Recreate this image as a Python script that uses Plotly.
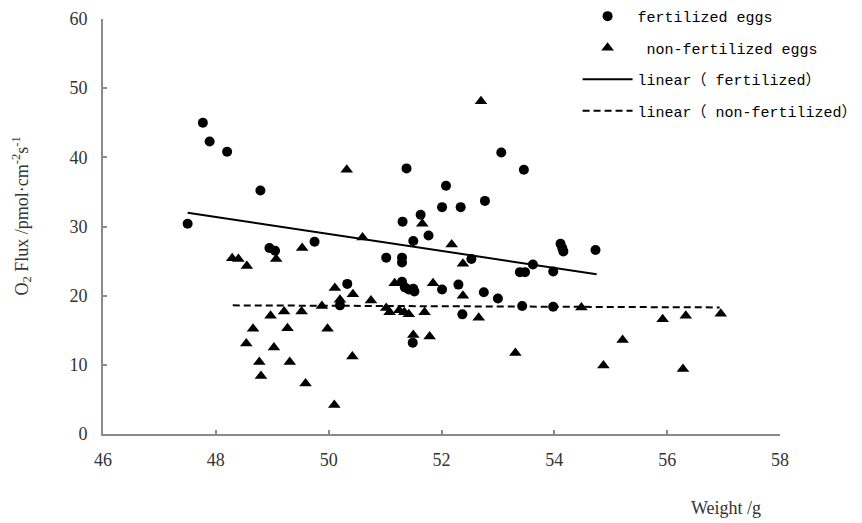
import plotly.graph_objects as go

# ---- data ----
fert_w = [47.5, 47.77, 47.89, 48.2, 48.79, 48.95, 49.05, 49.75, 50.33, 50.2,
          51.38, 51.31, 51.02, 51.3, 51.3, 51.63, 51.77, 51.5, 52.08, 52.01,
          52.34, 52.77, 53.06, 53.46, 54.11, 54.14, 54.16, 54.73, 52.53, 53.62,
          53.39, 53.48, 53.98, 51.3, 51.35, 51.42, 51.5, 51.52, 52.01, 52.3,
          52.75, 53.0, 53.43, 53.98, 52.37, 51.49]
fert_o2 = [30.4, 45.0, 42.3, 40.8, 35.2, 26.9, 26.5, 27.8, 21.7, 18.6,
           38.4, 30.7, 25.5, 25.5, 24.8, 31.7, 28.7, 27.9, 35.9, 32.8,
           32.8, 33.7, 40.7, 38.2, 27.5, 26.9, 26.4, 26.6, 25.3, 24.5,
           23.4, 23.4, 23.5, 22.0, 21.2, 20.9, 21.0, 20.6, 20.9, 21.6,
           20.5, 19.6, 18.5, 18.4, 17.3, 13.2]

nonf_w = [48.29, 48.4, 48.55, 49.07, 49.53, 50.32, 50.6, 50.11, 50.43, 50.2,
          49.88, 50.75, 51.02, 51.08, 51.25, 51.34, 51.17, 48.97, 49.21, 49.52,
          48.66, 49.27, 49.98, 48.54, 49.03, 48.77, 49.31, 48.8, 50.42, 49.59,
          50.1, 52.7, 51.66, 52.18, 52.38, 51.85, 52.38, 51.42, 51.7, 52.66,
          51.79, 51.5, 53.31, 54.48, 54.87, 55.21, 55.92, 56.33, 56.28, 56.95]
nonf_o2 = [25.4, 25.3, 24.3, 25.3, 26.9, 38.2, 28.4, 21.1, 20.2, 19.4,
           18.5, 19.3, 18.2, 17.6, 17.9, 17.6, 21.8, 17.1, 17.7, 17.7,
           15.2, 15.3, 15.2, 13.1, 12.5, 10.4, 10.4, 8.4, 11.2, 7.3,
           4.2, 48.1, 30.4, 27.4, 24.6, 21.8, 20.0, 17.3, 17.6, 16.8,
           14.1, 14.3, 11.7, 18.3, 9.9, 13.6, 16.6, 17.1, 9.4, 17.4]

lin_fert_w = [47.5, 54.75]
lin_fert_o2 = [32.0, 23.1]
lin_nonf_w = [48.3, 56.93]
lin_nonf_o2 = [18.6, 18.3]

x_ticks = [46, 48, 50, 52, 54, 56, 58]
y_ticks = [0, 10, 20, 30, 40, 50, 60]

serif = "Liberation Serif, Times New Roman, serif"
mono = "Liberation Mono, Noto Sans CJK SC, monospace"

fig = go.Figure()
fig.add_trace(go.Scatter(x=fert_w, y=fert_o2, mode="markers", name="fertilized eggs",
                         legendgroup="a",
                         marker=dict(symbol="circle", size=10, color="black")))
fig.add_trace(go.Scatter(x=nonf_w, y=nonf_o2, mode="markers", name=" non-fertilized eggs",
                         legendgroup="b",
                         marker=dict(symbol="triangle-up", size=11, color="black")))
fig.add_trace(go.Scatter(x=lin_fert_w, y=lin_fert_o2, mode="lines", name="linear（ fertilized）",
                         legendgroup="c",
                         line=dict(color="black", width=2)))
fig.add_trace(go.Scatter(x=lin_nonf_w, y=lin_nonf_o2, mode="lines", name="linear（ non-fertilized）",
                         legendgroup="d",
                         line=dict(color="black", width=2, dash="7px,4px")))

axis_common = dict(showline=True, linecolor="#8a8a8a", linewidth=2, ticks="inside",
                   ticklen=4, tickwidth=1.5, tickcolor="#8a8a8a", showgrid=False,
                   zeroline=False, tickfont=dict(family=serif, size=18, color="#333"))

fig.update_xaxes(range=[46, 58], tickvals=x_ticks, ticktext=[str(v) for v in x_ticks],
                 ticklabelstandoff=8, **axis_common)
fig.update_yaxes(range=[0, 60], tickvals=y_ticks, ticktext=[str(v) for v in y_ticks],
                 ticklabelstandoff=10, **axis_common)

fig.add_annotation(text="O<sub>2</sub> Flux /pmol·cm<sup>-2</sup>s<sup>-1</sup>",
                   xref="paper", yref="paper", x=-0.12, y=0.526, textangle=-90,
                   showarrow=False, xanchor="center", yanchor="middle",
                   font=dict(family=serif, size=18, color="#333"))
fig.add_annotation(text="Weight /g", xref="paper", yref="paper", x=0.92, y=-0.178,
                   showarrow=False, xanchor="center", yanchor="middle",
                   font=dict(family=serif, size=18, color="#333"))

fig.update_layout(
    width=862, height=523,
    margin=dict(l=103, r=82, t=19, b=89, autoexpand=False),
    paper_bgcolor="white", plot_bgcolor="white",
    showlegend=True,
    legend=dict(x=0.701, y=1.046, xanchor="left", yanchor="top",
                bgcolor="rgba(0,0,0,0)", itemwidth=50, tracegroupgap=9,
                font=dict(family=mono, size=15, color="black")),
)

fig.write_html("out.html")
